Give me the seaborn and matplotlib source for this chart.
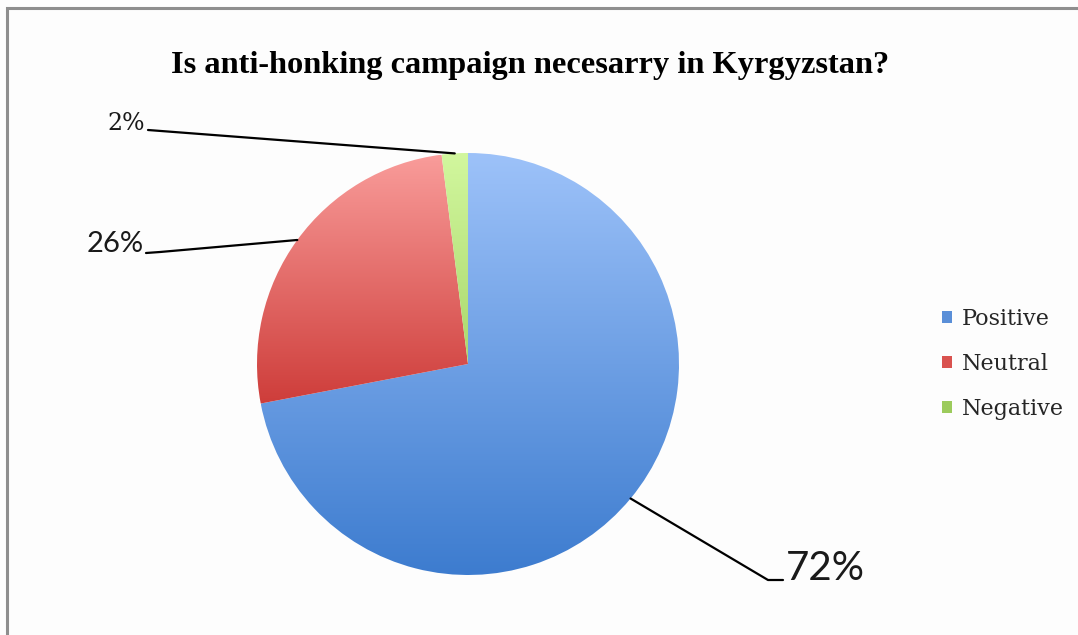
import numpy as np
import matplotlib
matplotlib.use("Agg")
import matplotlib.pyplot as plt
import seaborn as sns
from matplotlib.colors import to_rgba
from matplotlib.patches import Patch, Rectangle

# ---- data ----
categories = ["Positive", "Neutral", "Negative"]
values = [72, 26, 2]
pct_labels = ["72%", "26%", "2%"]
title = "Is anti-honking campaign necesarry in Kyrgyzstan?"

# ---- style ----
sns.set_theme(style="white")
plt.rcParams["font.family"] = ["DejaVu Sans"]

grad_top = ["#9DC2F9", "#F99C9A", "#D2F79E"]
grad_bot = ["#3D7CCF", "#CE3D3A", "#A9D86C"]
legend_cols = ["#5A8FD8", "#D9524F", "#9CCB5C"]

W, H = 1078, 635
fig = plt.figure(figsize=(W / 100, H / 100), dpi=100)
fig.patch.set_facecolor("#FDFDFD")

# pie axes: centre (468, 364) px, radius 211 px
cx, cy, r = 468, 364, 211
ax = fig.add_axes([(cx - r) / W, (H - cy - r) / H, 2 * r / W, 2 * r / H])
ax.set_facecolor("none")

wedges, _ = ax.pie(values, startangle=90, counterclock=False, radius=1,
                   colors=legend_cols, wedgeprops=dict(linewidth=0))

for w, ctop, cbot in zip(wedges, grad_top, grad_bot):
    bb = w.get_path().get_extents()
    t = np.linspace(0, 1, 256)[:, None]
    a, b = np.array(to_rgba(ctop)), np.array(to_rgba(cbot))
    img = (a[None, :] * (1 - t) + b[None, :] * t)[:, None, :]
    im = ax.imshow(img, extent=[bb.x0, bb.x1, bb.y0, bb.y1], origin="upper",
                   aspect="auto", interpolation="bilinear", zorder=2)
    im.set_clip_path(w)
    w.set_facecolor("none")

ax.set_xlim(-1, 1)
ax.set_ylim(-1, 1)
ax.set_axis_off()

# ---- labels with leader lines (anchored at wedge mid-angles) ----
def px2d(px, py):
    return (px - cx) / r, (cy - py) / r

mids = []
for w in wedges:
    ang = np.deg2rad((w.theta1 + w.theta2) / 2)
    mids.append((np.cos(ang), np.sin(ang)))

txt_col = "#1A1A1A"

# 72%
ex, ey = px2d(768, 580)
fx, fy = px2d(783, 580)
ax.plot([mids[0][0], ex, fx], [mids[0][1], ey, fy], color="black", lw=1.6, clip_on=False, zorder=3)
tx, ty = px2d(786, 568)
ax.text(tx, ty, pct_labels[0], fontsize=29, family="Lato",
        ha="left", va="center", color=txt_col)

# 26%
ex, ey = px2d(160, 252)
fx, fy = px2d(146, 253)
ax.plot([mids[1][0], ex, fx], [mids[1][1], ey, fy], color="black", lw=1.6, clip_on=False, zorder=3)
tx, ty = px2d(144, 244)
ax.text(tx, ty, pct_labels[1], fontsize=21, family="Lato",
        ha="right", va="center", color=txt_col)

# 2%
fx, fy = px2d(148, 130)
ax.plot([mids[2][0], fx], [mids[2][1], fy], color="black", lw=1.6, clip_on=False, zorder=3)
tx, ty = px2d(145, 124)
ax.text(tx, ty, pct_labels[2], fontsize=17, family="DejaVu Serif",
        ha="right", va="center", color=txt_col)

# ---- title ----
fig.text(530 / W, 1 - 66 / H, title, ha="center", va="center",
         fontsize=23.3, family="Liberation Serif", fontweight="bold", color="black")

# ---- legend ----
handles = [Patch(facecolor=c, edgecolor="none") for c in legend_cols]
fig.legend(handles, categories, loc="center left",
           bbox_to_anchor=(942 / W, 1 - 364 / H), frameon=False,
           prop=dict(family="DejaVu Serif", size=16),
           handlelength=0.45, handleheight=0.45, handletextpad=0.45,
           labelspacing=1.05, borderpad=0, borderaxespad=0)

# ---- frame ----
fig.patches.append(Rectangle((7 / W, -0.05), 1.2, 1 - 8 / H + 0.05,
                             transform=fig.transFigure, fill=False,
                             edgecolor="#8E8E8E", lw=2.2))

fig.savefig("out.png", dpi=100, facecolor=fig.get_facecolor())
